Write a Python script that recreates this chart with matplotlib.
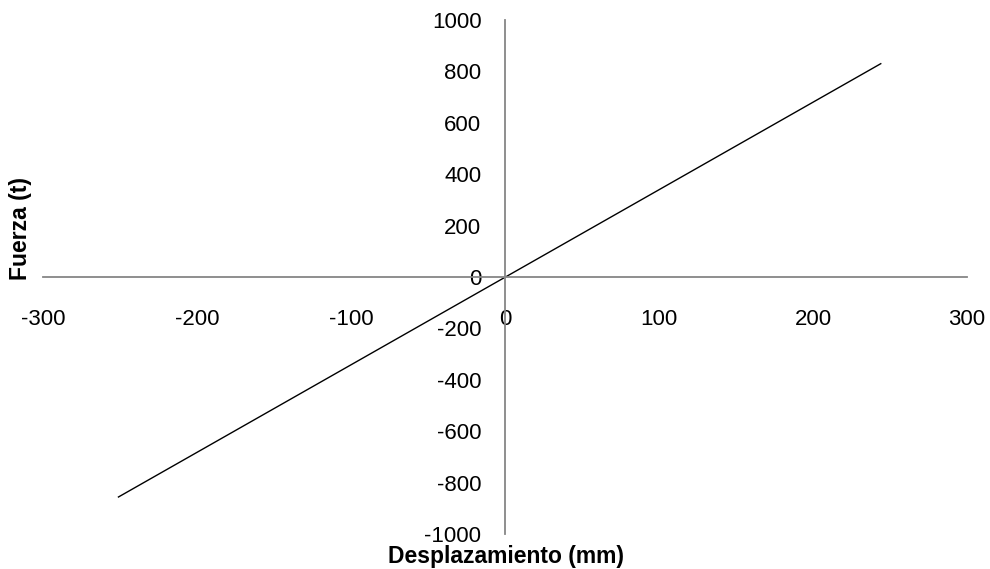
import matplotlib.pyplot as plt

# data
desplazamiento = [-251, 244]
fuerza = [-856, 830]

x_ticks = [-300, -200, -100, 0, 100, 200, 300]
y_ticks = [-1000, -800, -600, -400, -200, 0, 200, 400, 600, 800, 1000]

plt.rcParams['font.family'] = ['Liberation Sans', 'DejaVu Sans']
plt.rcParams['axes.unicode_minus'] = False

fig = plt.figure(figsize=(9.9, 5.69), dpi=100)
ax = fig.add_axes([43 / 990, 1 - 534 / 569, 924 / 990, 514 / 569])

ax.plot(desplazamiento, fuerza, color='black', lw=1.0)

ax.set_xlim(-300, 300)
ax.set_ylim(-1000, 1000)
ax.set_xticks(x_ticks)
ax.set_yticks(y_ticks)

for side in ['top', 'right']:
    ax.spines[side].set_visible(False)
ax.spines['left'].set_position(('data', 0))
ax.spines['bottom'].set_position(('data', 0))
for side in ['left', 'bottom']:
    ax.spines[side].set_color('#868686')
    ax.spines[side].set_linewidth(1.3)

ax.tick_params(axis='x', length=0, pad=23, labelsize=16)
ax.tick_params(axis='y', length=0, pad=17, labelsize=16)

fig.text(506 / 990, 1 - 557 / 569, 'Desplazamiento (mm)', ha='center', va='center',
         fontsize=16.5, fontweight='bold')
fig.text(21 / 990, 1 - 228 / 569, 'Fuerza (t)', ha='center', va='center',
         rotation=90, fontsize=16.5, fontweight='bold')

fig.savefig('out.png', dpi=100)
